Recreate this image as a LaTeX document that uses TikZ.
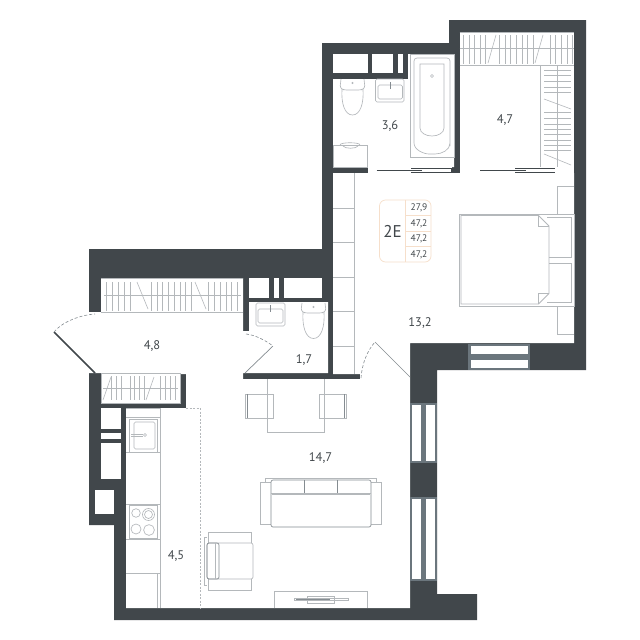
\documentclass[tikz,border=0pt]{standalone}
\usepackage{fontspec}
\setmainfont{PT Sans}
\definecolor{wallc}{HTML}{41474B}
\definecolor{framec}{HTML}{6B767D}
\definecolor{furn}{HTML}{B4B8BB}
\definecolor{furnd}{HTML}{858C91}
\definecolor{legendc}{HTML}{F6DFCB}
\tikzset{
 wall/.style={fill=wallc,draw=none},
 hole/.style={fill=white,draw=none},
 fu/.style={draw=furn,line width=.65pt,fill=none},
 fw/.style={draw=furn,line width=.65pt,fill=white},
 fd/.style={draw=furnd,line width=.65pt},
 rack/.style={draw=furn,line width=.6pt},
 rlabel/.style={text=wallc,font=\fontsize{12.5}{14}\selectfont,inner sep=0pt},
 leg/.style={text=wallc,font=\fontsize{9.5}{11}\selectfont,inner sep=0pt},
 swing/.style={draw=furnd,line width=.6pt,dash pattern=on 3pt off 2pt},
 leaf/.style={draw=furnd,line width=.7pt},
 glass/.style={fill=white,draw=none}
}
\begin{document}
\begin{tikzpicture}[x=1pt,y=-1pt]
\useasboundingbox (0,0) rectangle (640,640);
\fill[white] (0,0) rectangle (640,640);
% walls
\fill[wall] (449,20)--(586,20)--(586,370)--(437,370)--(437,594)--(477,594)--(477,620)--(114,620)--(114,525)--(89,525)--(89,249)--(322,249)--(322,43)--(449,43)--cycle;
% interior
\fill[hole] (333,173)--(574,173)--(574,343)--(410,343)--(410,608)--(126,608)--(126,408)--(186,408)--(186,374)--(180,374)--(180,403)--(101,403)--(101,373)--(89,373)--(89,312)--(101,312)--(101,278)--(243,278)--(243,331)--(249,331)--(249,302)--(328,302)--(328,373)--(243,373)--(243,379)--(360,379)--(360,374)--(333,374)--cycle;
\fill[hole] (333,79)--(408,79)--(408,54)--(454,54)--(454,167)--(333,167)--cycle;
\fill[hole] (459.5,32) rectangle (574,173);
\fill[hole] (472,167) rectangle (574,174);
\fill[hole] (368,167) rectangle (452,174);
% niches
\foreach \a/\b/\c/\d in {333/54/368/73,372/54/393/73,398/54/403/73,249/278/269/298,274/278/279/298,284/278/322/298,101/408/121/429,101/433/121/439,101/443/121/479,95/490/114/514}
  \fill[hole] (\a,\b) rectangle (\c,\d);
% sliding doors
\foreach \o in {0,103.5}{
  \begin{scope}[xshift=\o pt]
  \draw[wallc,line width=.8pt] (376.5,170)--(411,170);
  \fill[wall] (411,167.6) rectangle (451.5,172.6);
  \fill[white] (422,168.8) rectangle (451,171.6);
  \fill[white] (411,169) rectangle (422,169.6);
  \fill[white] (411,170.8) rectangle (422,171.4);
  \end{scope}}
% windows
\fill[framec] (468,344) rectangle (530,370);
\fill[glass] (471,346) rectangle (528,354);
\fill[glass] (471,360) rectangle (528,368);
\foreach \ya/\yb in {403/463,497/581}{
  \fill[framec] (410,\ya) rectangle (437,\yb);
  \fill[glass] (412,\ya+2) rectangle (421,\yb-2);
  \fill[glass] (426,\ya+2) rectangle (435,\yb-2);
}
% top closet racks
\draw[furn,line width=.8pt] (459.5,32)--(574,32) (459.5,65)--(574,65);
\draw[rack] (459.5,48.5)--(574,48.5);
\foreach \x in {430,447,464,480,497,538,555,572,589,606,623,640,690,707,724,741,758}
  \draw[rack] ({320+\x/3},35)--({320+\x/3},64);
\draw[rack] (488,63)--(496,35) (535,63)--(543,35);
% right wardrobe
\draw[fu] (540,65)--(540,167) (557.5,65)--(557.5,167);
\foreach \y in {180,197,214,231,248,308,325,342,358,374,390,406,422}
  \draw[rack] (544,{10+\y/3})--(571,{10+\y/3});
\draw[rack] (544,99)--(571,109) (544,154)--(571,165);
% hall closet
\draw[furn,line width=.8pt] (101,278.5)--(243,278.5) (101,312)--(243,312);
\draw[rack] (104,295)--(241,295);
\foreach \x in {200,217,235,252,270,335,352,368,385,403,420,437,455,505,523,540,558,575,592}
  \draw[rack] ({40+\x/3},282)--({40+\x/3},311);
\draw[rack] (137,282)--(148,309) (195,282)--(206,309);
% lower closet
\draw[furn,line width=.8pt] (101,373.5) rectangle (180,403);
\draw[rack] (103,388)--(178,388);
\foreach \x in {50,65,80,105,118,133,147,197,212,227,242}
  \draw[rack] ({95+\x/3},376)--({95+\x/3},400);
\draw[rack] (103,400)--(111,377) (146,400)--(154,377);
% left bedroom wardrobe
\draw[fu] (354,173)--(354,374);
\foreach \y in {208,242,277,311,346} \draw[fu] (333,\y)--(354,\y);
% bath
\draw[fu] (410,54) rectangle (454,157);
\draw[fu,rounded corners=3pt] (450,148) -- (450,58) -- (414,58) -- (414,140) .. controls (414,150) and (424,154) .. (432,154) .. controls (442,154) and (450,150) .. (450,140)--cycle;
\draw[fu] (420,128)--(420,64)--(444,64)--(444,128) .. controls (444,133) and (438,136) .. (432,136) .. controls (426,136) and (420,133) .. (420,128)--cycle;
\draw[fu] (432,76) circle (1.5);
% bath toilet
\draw[fu,rounded corners=2.5pt] (341,79)--(340,88)--(344,90)--(361,90)--(365,88)--(364,79);
\draw[draw=furn,line width=.65pt] (342,89) .. controls (341,104) and (345,115) .. (352.5,115) .. controls (360,115) and (364,104) .. (363,89);
\draw[fu] (352.5,83) circle (.7);
% bath sink
\draw[fu,rounded corners=1.5pt] (375.5,79) rectangle (404,102);
\draw[fu,rounded corners=1.5pt] (378,85) rectangle (402.5,99);
\draw[fd] (390,82)--(390,89);
% washer
\draw[fu] (333.5,145) rectangle (367,167);
\draw[fu] (340,145) .. controls (340,142) and (360,142) .. (360,145) (343,146) .. controls (345,149) and (356,149) .. (358,146);
% wc sink + toilet
\draw[fu,rounded corners=1.5pt] (256,303) rectangle (285,326);
\draw[fu,rounded corners=1.5pt] (258,309) rectangle (283,323);
\draw[fd] (270.5,305)--(270.5,312);
\draw[fu,rounded corners=2.5pt] (302,303)--(301,311)--(305,313)--(322,313)--(326,311)--(325,303);
\draw[draw=furn,line width=.65pt] (303,312) .. controls (302,327) and (306,338.5) .. (313.5,338.5) .. controls (321,338.5) and (325,327) .. (324,312);
\draw[fu] (313.5,307) circle (.7);
% kitchen
\draw[fu] (126,408.5)--(160,408.5) (160.5,408)--(160.5,608) (157,573)--(157,608);
\foreach \y in {417,452,504,539,573} \draw[fu] (126,\y)--(160,\y);
\draw[fu] (129,419) rectangle (157,452);
\draw[fu,rounded corners=1.5pt] (134,422) rectangle (155,449);
\draw[fu] (131,434.5)--(143,434.5) (131,436.5)--(143,436.5);
\draw[fu] (145,435) circle (1.5);
\draw[fu] (129,505) rectangle (157,538);
\draw[fu] (136,513) circle (4.3);
\draw[fu] (148.5,514.5) circle (6) (148.5,514.5) circle (4);
\draw[fu] (136,529) circle (5) (149,530) circle (5.4);
\draw[furn,line width=.5pt,dash pattern=on 2pt off 1.5pt] (186,408.5)--(200.5,408.5)--(200.5,608);
% table + chairs
\draw[fu] (267,379)--(267,432)--(324,432)--(324,379);
\draw[fu] (245,394) rectangle (273,418);
\draw[fd] (247,394)--(247,418);
\draw[fu] (319,394) rectangle (346,418);
\draw[fd] (344,394)--(344,418);
% sofa
\draw[fu] (265,482)--(265,478)--(376,478)--(376,482);
\draw[fu] (271,482.5)--(260,482.5)--(260,524.5)--(271,524.5);
\draw[fu] (371,482.5)--(381.5,482.5)--(381.5,524.5)--(371,524.5);
\draw[fd,fill=white,rounded corners=2pt] (271,480) rectangle (371,527);
\draw[fd] (304,480)--(304,493) (337.5,480)--(337.5,493);
\draw[fu] (271,493)--(371,493);
\draw[fu,line width=.5pt] (272,494.5)--(370,494.5);
% armchair
\draw[fu] (208,543)--(208,532)--(251,532)--(251,543) (208,579)--(208,590)--(251,590)--(251,579);
\draw[fu] (207,537)--(204,537)--(204,585)--(207,585);
\draw[draw=furn,line width=.65pt,rounded corners=2pt] (207,543) rectangle (253,579);
\draw[fd,rounded corners=2pt] (207,543) rectangle (219,579);
\draw[fu] (215.5,543)--(215.5,579);
% tv
\draw[fu] (274,608)--(274,591)--(367,591)--(367,608);
\draw[fu] (294,598.3) rectangle (348,600.7);
\draw[fu] (307,596.7) rectangle (334,603);
\draw[fd] (296,599.5)--(330,599.5);
% bed
\draw[fu] (557,214)--(557,186)--(574,186) (557,306)--(557,334)--(574,334);
\draw[fu] (459.5,214) rectangle (574,306);
\draw[fw,line width=.8pt] (461,215.5)--(538.5,215.5)--(549,226)--(549,293.5)--(538.5,304)--(461,304)--cycle;
\draw[fu] (538.5,215.5)--(538.5,226)--(549,226) (538.5,304)--(538.5,293.5)--(549,293.5);
\draw[fu] (547,217.5)--(571,217.5)--(571,257)--(549,257);
\draw[fu] (549,263.5)--(571,263.5)--(571,302.5)--(547,302.5);
% doors
\coordinate (dA) at (54,332); \coordinate (dB) at (95,373); \coordinate (dC) at (95,314);
\draw[wallc,line width=1.6pt] (dA)--(dB);
\draw[swing] (dA) .. controls (62,322) and (80,315) .. (dC);
\coordinate (tA) at (273,346); \coordinate (tB) at (245,373); \coordinate (tC) at (246,334);
\draw[leaf] (tA)--(tB);
\draw[swing] (tC) .. controls (255,335) and (265,340) .. (tA);
\coordinate (bA) at (375,342); \coordinate (bB) at (410,377); \coordinate (bC) at (361,378);
\draw[leaf] (bA)--(bB);
\draw[swing] (bC) .. controls (362,364) and (367,351) .. (bA);
% legend
\draw[legendc,line width=.7pt,rounded corners=6pt] (379.5,200) rectangle (431,262);
\draw[legendc,line width=.7pt] (405.5,200)--(405.5,262) (405.5,215.5)--(431,215.5) (405.5,231)--(431,231) (405.5,246.5)--(431,246.5);
\node[text=wallc,font=\fontsize{17}{19}\selectfont,inner sep=0pt] (L0) at (392.5,231.5) {2E};
\node[leg] (L1) at (419,208) {27,9};
\node[leg] (L2) at (419,223.5) {47,2};
\node[leg] (L3) at (419,239) {47,2};
\node[leg] (L4) at (419,254.5) {47,2};
% labels
\node[rlabel] (r1) at (390,126) {3,6};
\node[rlabel] (r2) at (505,120) {4,7};
\node[rlabel] (r3) at (420,323) {13,2};
\node[rlabel] (r4) at (152,346) {4,8};
\node[rlabel] (r5) at (304,360) {1,7};
\node[rlabel] (r6) at (320.5,458) {14,7};
\node[rlabel] (r7) at (176,556) {4,5};
\end{tikzpicture}
\end{document}
